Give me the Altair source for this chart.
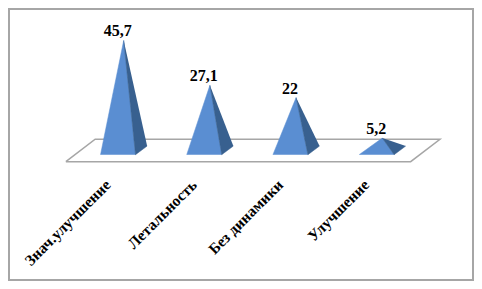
import altair as alt
import pandas as pd

categories = ["Знач.улучшение", "Летальность", "Без динамики", "Улучшение"]
values = [45.7, 27.1, 22, 5.2]
value_labels = ["45,7", "27,1", "22", "5,2"]

# Scale set-up (category index on x, value on y)
W, H, PAD = 464, 271, 1
UX = 86.2
UY = 2.41
X0 = 118 - 8 - PAD   # plot-x of category 0
Y0 = 150.6 - 8 - PAD  # plot-y of value 0
x_scale = alt.Scale(domain=[-X0 / UX, (W - X0) / UX], nice=False, zero=False)
y_scale = alt.Scale(domain=[(Y0 - H) / UY, Y0 / UY], nice=False, zero=False)

HALF = 0.203
BACK_X = 0.135
APEX_X = 0.066
FRONT_Y = -1.7
BACK_Y = 1.9

front, side, vals, labs = [], [], [], []
for i, (c, v, t) in enumerate(zip(categories, values, value_labels)):
    for k, (x, y) in enumerate([(i - HALF, FRONT_Y), (i + APEX_X, v), (i + HALF, FRONT_Y)]):
        front.append({"c": c, "k": k, "x": x, "y": y})
    for k, (x, y) in enumerate([(i + APEX_X, v), (i + HALF, FRONT_Y), (i + HALF + BACK_X, BACK_Y)]):
        side.append({"c": c, "k": k, "x": x, "y": y})
    vals.append({"x": i + APEX_X - 0.07, "y": v, "t": t})
    labs.append({"x": i - 0.115, "y": -13.2, "t": c})

floor = pd.DataFrame({
    "k": [0, 1, 2, 3, 4],
    "x": [-0.605, -0.265, 3.735, 3.395, -0.605],
    "y": [-4.6, 4.7, 4.7, -4.6, -4.6],
})

enc = dict(
    x=alt.X("x:Q", scale=x_scale, axis=None),
    y=alt.Y("y:Q", scale=y_scale, axis=None),
    order=alt.Order("k:Q"),
)

floor_l = alt.Chart(floor).mark_line(stroke="#A6A6A6", strokeWidth=1.5, fill="#FFFFFF", clip=False).encode(**enc)
front_l = alt.Chart(pd.DataFrame(front)).mark_line(
    fill="#5A8ED2", stroke="#5A8ED2", strokeWidth=0.5
).encode(detail="c:N", **enc)
side_l = alt.Chart(pd.DataFrame(side)).mark_line(
    fill="#38608F", stroke="#38608F", strokeWidth=0.5
).encode(detail="c:N", **enc)

val_text = alt.Chart(pd.DataFrame(vals)).mark_text(
    font="Liberation Serif", fontWeight="bold", fontSize=16, color="#000000", baseline="bottom", dy=-1
).encode(x=alt.X("x:Q", scale=x_scale, axis=None), y=alt.Y("y:Q", scale=y_scale, axis=None), text="t:N")

cat_text = alt.Chart(pd.DataFrame(labs)).mark_text(
    font="Liberation Serif", fontWeight="bold", fontSize=15.5, color="#000000",
    align="right", baseline="middle", angle=315
).encode(x=alt.X("x:Q", scale=x_scale, axis=None), y=alt.Y("y:Q", scale=y_scale, axis=None), text="t:N")

chart = alt.layer(floor_l, front_l, side_l, val_text, cat_text).properties(
    width=W, height=H, padding=PAD, autosize=alt.AutoSizeParams(type="none"), background="#FFFFFF"
).configure_view(stroke="#A6A6A6", strokeWidth=2)

chart.save("out.html", embed_options={"renderer": "svg", "actions": False})
